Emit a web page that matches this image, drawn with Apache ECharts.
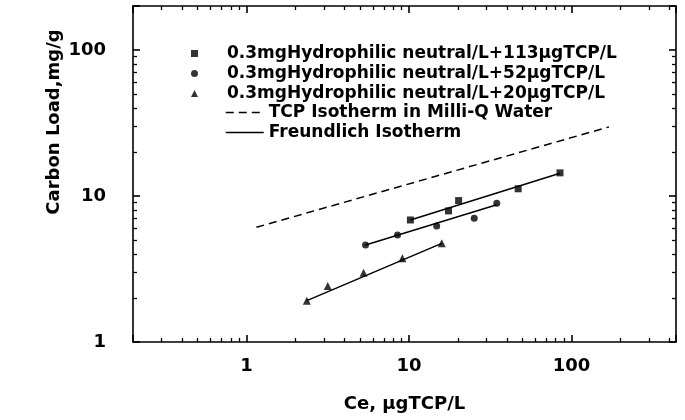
<!DOCTYPE html>
<html>
<head>
<meta charset="utf-8">
<script src="https://cdn.jsdelivr.net/npm/echarts@6/dist/echarts.min.js"></script>
<style>
  html, body { margin: 0; padding: 0; background: #fff; }
  #main { width: 685px; height: 420px; }
</style>
</head>
<body>
<div id="main"></div>
<script>
'use strict';

/* ===== data ===== */
var s113X = [10.2, 17.5, 20.2, 47, 85];
var s113Y = [6.85, 7.9, 9.3, 11.2, 14.4];
var s52X = [5.4, 8.5, 14.8, 25.2, 34.7];
var s52Y = [4.62, 5.4, 6.23, 7.03, 8.9];
var s20X = [2.35, 3.16, 5.25, 9.1, 15.9];
var s20Y = [1.92, 2.42, 2.98, 3.74, 4.74];

// TCP isotherm in Milli-Q water (dashed)
var tcpX = [1.15, 170];
var tcpY = [6.1, 29.7];

// Freundlich fits (solid)
var fit113X = [10.2, 85];
var fit113Y = [6.85, 14.3];
var fit52X = [5.4, 34.7];
var fit52Y = [4.62, 8.7];
var fit20X = [2.35, 15.9];
var fit20Y = [1.92, 4.74];

// axes
var xMin = 0.2, xMax = 440;
var yMin = 1, yMax = 200;

var names = [
  '0.3mgHydrophilic neutral/L+113\u03bcgTCP/L',
  '0.3mgHydrophilic neutral/L+52\u03bcgTCP/L',
  '0.3mgHydrophilic neutral/L+20\u03bcgTCP/L',
  'TCP Isotherm in Milli-Q Water',
  'Freundlich Isotherm'
];

function zip(xs, ys) {
  return xs.map(function (x, i) { return [x, ys[i]]; });
}

var FONT = 'DejaVu Sans';

// only 1, 10, 100 get a label
function isDecade(v) {
  var l = Math.log10(v);
  return Math.abs(l - Math.round(l)) < 1e-6;
}

function logAxis(pos, min, max, showLabel) {
  return {
    type: 'log',
    position: pos,
    min: min,
    max: max,
    axisLine: { show: true, lineStyle: { color: '#000', width: 1.6 } },
    axisTick: { show: true, inside: true, length: 7, lineStyle: { color: '#000', width: 1.6 } },
    minorTick: { show: true, splitNumber: 9, length: 4, lineStyle: { color: '#000', width: 1.3 } },
    splitLine: { show: false },
    axisLabel: {
      show: showLabel,
      color: '#000',
      fontFamily: FONT,
      fontWeight: 'bold',
      fontSize: 18,
      margin: 15,
      formatter: function (v) { return isDecade(v) ? String(Math.round(v)) : ''; }
    }
  };
}

var xBottom = logAxis('bottom', xMin, xMax, true);
xBottom.name = 'Ce, \u03bcgTCP/L';
xBottom.nameLocation = 'middle';
xBottom.nameGap = 53;
xBottom.nameTextStyle = { color: '#000', fontFamily: FONT, fontWeight: 'bold', fontSize: 18 };

var yLeft = logAxis('left', yMin, yMax, true);
yLeft.axisLabel.margin = 27;

var lineSeries = function (name, data, dashed) {
  return {
    name: name,
    type: 'line',
    data: data,
    showSymbol: false,
    symbol: 'none',
    silent: true,
    lineStyle: { color: '#000', width: 1.5, type: dashed ? [8, 5] : 'solid' },
    itemStyle: { color: '#000' },
    z: 3
  };
};

var markerSeries = function (name, data, symbol, size) {
  return {
    name: name,
    type: 'scatter',
    data: data,
    symbol: symbol,
    symbolSize: size,
    itemStyle: { color: '#000' },
    z: 4
  };
};

var legendText = { color: '#000', fontFamily: FONT, fontWeight: 'bold', fontSize: 17 };

var myChart = echarts.init(document.getElementById('main'));

var option = {
  backgroundColor: '#fff',
  animation: false,
  grid: { left: 133, right: 9, top: 6, bottom: 78, containLabel: false },
  xAxis: [xBottom, logAxis('top', xMin, xMax, false)],
  yAxis: [yLeft, logAxis('right', yMin, yMax, false)],
  legend: [
    {
      data: names.slice(0, 3),
      orient: 'vertical',
      left: 186,
      top: 40,
      itemWidth: 7,
      itemHeight: 7,
      itemGap: 3,
      textStyle: Object.assign({ padding: [0, 0, 0, 24] }, legendText)
    },
    {
      data: names.slice(3),
      orient: 'vertical',
      left: 220,
      top: 99,
      itemWidth: 38,
      itemHeight: 10,
      itemGap: 3,
      itemStyle: { opacity: 0 },
      lineStyle: { width: 1.5 },
      textStyle: legendText
    }
  ],
  graphic: [
    {
      type: 'text',
      x: 54,
      y: 122,
      rotation: Math.PI / 2,
      style: {
        text: 'Carbon Load,mg/g',
        fill: '#000',
        font: 'bold 18px "' + FONT + '"',
        align: 'center',
        verticalAlign: 'middle'
      }
    }
  ],
  series: [
    markerSeries(names[0], zip(s113X, s113Y), 'rect', 7),
    markerSeries(names[1], zip(s52X, s52Y), 'circle', 7),
    markerSeries(names[2], zip(s20X, s20Y), 'triangle', 8),
    lineSeries(names[3], zip(tcpX, tcpY), true),
    lineSeries(names[4], zip(fit113X, fit113Y), false),
    lineSeries(names[4], zip(fit52X, fit52Y), false),
    lineSeries(names[4], zip(fit20X, fit20Y), false)
  ]
};

myChart.setOption(option);
</script>
</body>
</html>
